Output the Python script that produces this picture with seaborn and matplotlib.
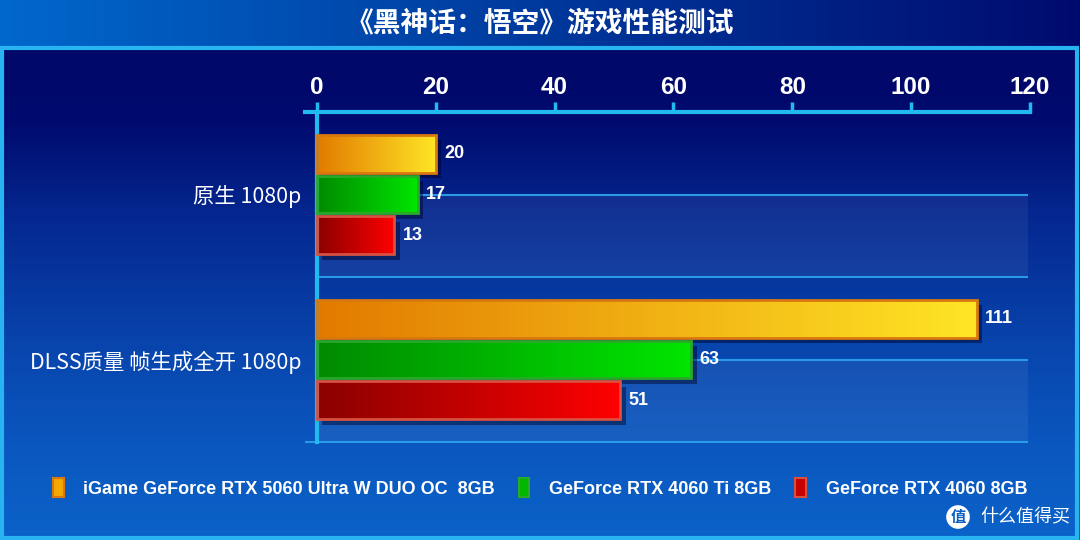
import numpy as np
import pandas as pd
import seaborn as sns
import matplotlib.pyplot as plt
from matplotlib.patches import Rectangle, Patch
from matplotlib.colors import LinearSegmentedColormap, to_rgb
import matplotlib.transforms as mtransforms

# 数据
settings = ["原生 1080p", "DLSS质量 帧生成全开 1080p"]
cards = ["iGame GeForce RTX 5060 Ultra W DUO OC  8GB",
         "GeForce RTX 4060 Ti 8GB",
         "GeForce RTX 4060 8GB"]
fps_5060 = [20, 111]
fps_4060ti = [17, 63]
fps_4060 = [13, 51]
x_ticks = [0, 20, 40, 60, 80, 100, 120]
title = "《黑神话：悟空》游戏性能测试"

df = pd.DataFrame({
    "setting": settings * 3,
    "card": [c for c in cards for _ in settings],
    "fps": fps_5060 + fps_4060ti + fps_4060,
})

# 颜色：渐变起止色、边框色
grad = [("#e27a00", "#ffe526"), ("#008a00", "#00e600"), ("#8a0000", "#ff0000")]
edges = ["#d8780e", "#2aa82a", "#d85040"]
mid = ["#f4a800", "#00b800", "#c80000"]

sns.set_theme(style="white")
plt.rcParams["font.family"] = ["Noto Sans CJK SC", "DejaVu Sans"]
num_font = ["Liberation Sans", "DejaVu Sans"]

W, H = 1080, 540
fig = plt.figure(figsize=(10.8, 5.4), dpi=100)

# 背景
bg = fig.add_axes([0, 0, 1, 1], zorder=0)
bg.set_axis_off()
img = np.zeros((H, W, 3))
band = 46
c0, c1 = np.array(to_rgb("#0068cc")), np.array(to_rgb("#000a6e"))
t = np.linspace(0, 1, W)[:, None]
img[:band] = (c0 * (1 - t) + c1 * t)[None, :, :]
ys = np.arange(band, H)
stops_y = [band, 120, 210, 350, 450, H]
stops_c = [to_rgb(c) for c in ["#000868", "#000a6e", "#04268e", "#0846ae", "#0a58c0", "#0a62c8"]]
for k in range(3):
    img[band:, :, k] = np.interp(ys, stops_y, [c[k] for c in stops_c])[:, None]
bg.imshow(img, extent=[0, W, H, 0], aspect="auto")
bg.add_patch(Rectangle((2, 47.5), W - 5, H - 50, fill=False, ec="#28b4f0", lw=3))
bg.set_xlim(0, W)
bg.set_ylim(H, 0)
fig.text(0.5, 1 - 23 / H, title, ha="center", va="center", color="white",
         fontsize=20, fontweight="bold")

# 主图
ax = fig.add_axes([305 / W, 1 - 442 / H, 725 / W, 330 / H], zorder=1)
ax.patch.set_alpha(0)
sns.barplot(data=df, y="setting", x="fps", hue="card", orient="h",
            palette=mid, width=0.74, gap=0.07, legend=False, ax=ax)

xmax_floor = 119.7
for c in range(len(settings)):
    ax.add_patch(Rectangle((0, c), xmax_floor, 0.5, fc="#ffffff", alpha=0.06, ec="none", zorder=0.5))
    ax.hlines([c, c + 0.5], 0, xmax_floor, color="#2a9ae8", lw=1.5, zorder=0.6)

shadow_off = mtransforms.ScaledTranslation(4 / 72, -4 / 72, fig.dpi_scale_trans)
for i, cont in enumerate(ax.containers):
    cmap = LinearSegmentedColormap.from_list("g%d" % i, grad[i])
    for p in cont.patches:
        x0, y0, w, h = p.get_x(), p.get_y(), p.get_width(), p.get_height()
        ax.add_patch(Rectangle((x0, y0), w, h, fc="#000020", alpha=0.45, ec="none",
                               transform=ax.transData + shadow_off, zorder=1))
        p.set_facecolor("none")
        p.set_edgecolor(edges[i])
        p.set_linewidth(2)
        p.set_zorder(3)
        im = ax.imshow(np.linspace(0, 1, 256)[None, :], cmap=cmap, aspect="auto",
                       extent=[x0, x0 + w, y0 + h, y0], zorder=2)
        im.set_clip_path(p)
    ax.bar_label(cont, padding=6, color="white", fontsize=13, fontweight="bold",
                 family=num_font)

ax.set_xlim(-2, 120)
ax.set_ylim(1.5, -0.5)
ax.set_xlabel("")
ax.set_ylabel("")

for s in ["right", "bottom"]:
    ax.spines[s].set_visible(False)
ax.spines["top"].set_color("#22b8f0")
ax.spines["top"].set_linewidth(3)
ax.spines["left"].set_color("#22b8f0")
ax.spines["left"].set_linewidth(3)
ax.spines["left"].set_position(("data", 0))

ax.xaxis.tick_top()
ax.set_xticks(x_ticks)
ax.set_xticklabels([str(v) for v in x_ticks], fontsize=17.5, fontweight="bold",
                   color="white", family=num_font)
ax.tick_params(axis="x", direction="out", length=7, width=2.5, color="#22b8f0", pad=2)

ax.set_yticks([0.5, 1.5])
ax.set_yticklabels(["", ""])
ax.tick_params(axis="y", which="major", direction="out", length=12, width=2.5, color="#22b8f0")
ax.set_yticks([0, 1], settings, minor=True)
ax.tick_params(axis="y", which="minor", length=0, pad=11, labelsize=15.4, labelcolor="white")
for lab in ax.get_yticklabels(minor=True):
    lab.set_fontweight("medium")
ax.hlines([1.5], -2, xmax_floor, color="#2a9ae8", lw=1.5, zorder=0.6, clip_on=False)

# 图例
handles = [Patch(fc=mid[i], ec=edges[i], lw=1.5) for i in range(3)]
leg = fig.legend(handles, cards, loc="center", bbox_to_anchor=(0.5, 1 - 488 / H), ncol=3,
                 frameon=False, handlelength=0.6, handleheight=1.2, handletextpad=1.1,
                 columnspacing=1.3, prop={"family": num_font, "weight": "bold", "size": 13})
for txt in leg.get_texts():
    txt.set_color("white")

# 水印
fig.text(958 / W, 1 - 517 / H, "值", ha="center", va="center", color="#0a5ec4", fontsize=11,
         fontweight="bold", bbox=dict(boxstyle="circle,pad=0.25", fc="white", ec="none"))
fig.text(980 / W, 1 - 517 / H, "什么值得买", ha="left", va="center", color="white", fontsize=13)

fig.savefig("out.png", dpi=100)
